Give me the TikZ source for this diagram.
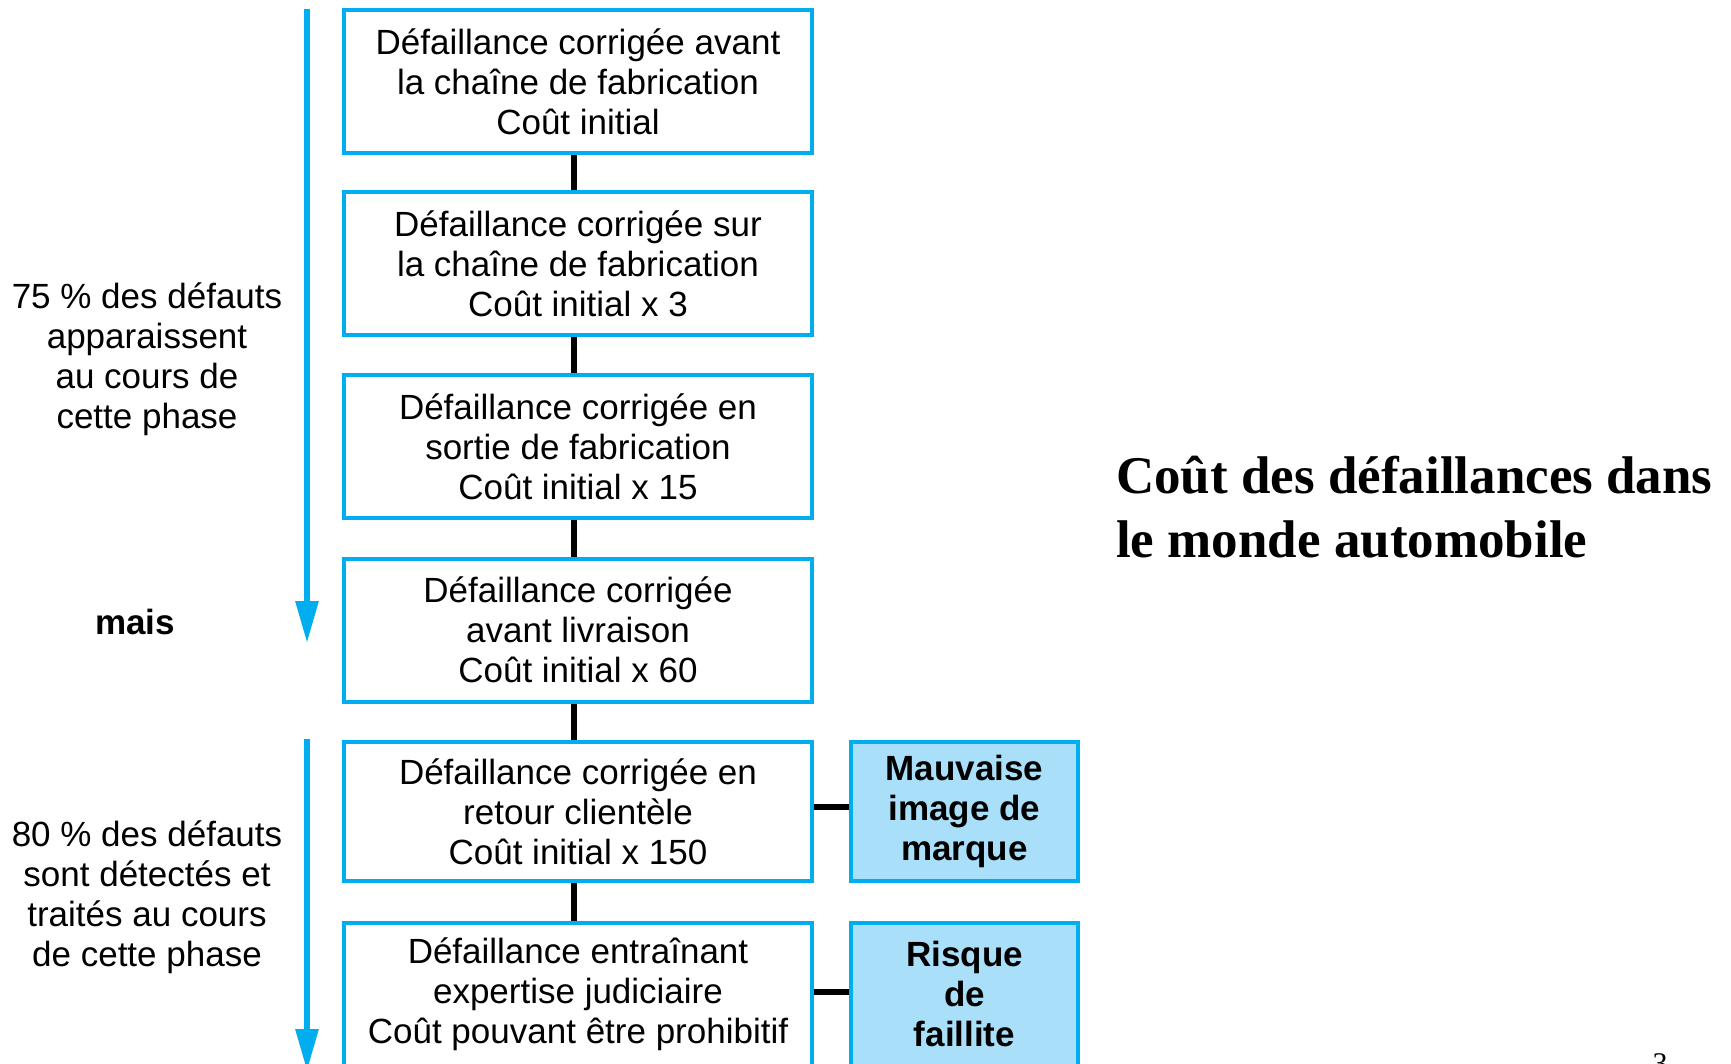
\documentclass[tikz,border=0pt]{standalone}
\usepackage{fontspec}
\setmainfont{Liberation Sans}
\newfontfamily\titlefont{Liberation Serif}
\usetikzlibrary{arrows.meta}
\definecolor{cyanline}{HTML}{00AEEF}
\definecolor{lightfill}{HTML}{A9DFF8}
\begin{document}
\begin{tikzpicture}[x=1pt,y=-1pt,
  stage/.style={draw=cyanline, line width=4pt, minimum width=468pt, minimum height=143pt,
    align=center, inner sep=0pt, font=\fontsize{35}{40}\selectfont},
  riskbox/.style={draw=cyanline, fill=lightfill, line width=4pt, minimum width=227pt, minimum height=126pt,
    align=center, inner sep=0pt, font=\fontsize{35}{40}\selectfont\bfseries},
  sidetext/.style={align=center, inner sep=0pt, font=\fontsize{35}{40}\selectfont},
  link/.style={line width=6pt, black},
  phase/.style={line width=6pt, cyanline, -{Triangle[length=42pt,width=22pt]}}
]
\useasboundingbox (0,0) rectangle (1731,1064);

\node[stage] (b1) at (578,81.5) {Défaillance corrigée avant\\la chaîne de fabrication\\Coût initial};
\node[stage] (b2) at (578,264) {Défaillance corrigée sur\\la chaîne de fabrication\\Coût initial x 3};
\node[stage] (b3) at (578,446.5) {Défaillance corrigée en\\sortie de fabrication\\Coût initial x 15};
\node[stage] (b4) at (578,630) {Défaillance corrigée\\avant livraison\\Coût initial x 60};
\node[stage, minimum height=139pt] (b5) at (578,811.5) {Défaillance corrigée en\\retour clientèle\\Coût initial x 150};
\node[stage] (b6) at (578,994) {Défaillance entraînant\\expertise judiciaire\\Coût pouvant être prohibitif};

\node[riskbox, minimum height=139pt] (r1) at (964.5,811.5) {Mauvaise\\image de\\marque};
\node[riskbox, minimum height=143pt] (r2) at (964.5,994) {Risque\\de\\faillite};

\draw[link] ([xshift=-4pt]b1.south) -- ([xshift=-4pt]b2.north);
\draw[link] ([xshift=-4pt]b2.south) -- ([xshift=-4pt]b3.north);
\draw[link] ([xshift=-4pt]b3.south) -- ([xshift=-4pt]b4.north);
\draw[link] ([xshift=-4pt]b4.south) -- ([xshift=-4pt]b5.north);
\draw[link] ([xshift=-4pt]b5.south) -- ([xshift=-4pt]b6.north);
\draw[link] ([yshift=4.5pt]b5.east) -- ([yshift=4.5pt]r1.west);
\draw[link] ([yshift=2pt]b6.east) -- ([yshift=2pt]r2.west);

\coordinate (a1s) at (307,9);
\coordinate (a1e) at (307,643);
\coordinate (a2s) at (307,739);
\coordinate (a2e) at (307,1071);
\draw[phase] (a1s) -- (a1e);
\draw[phase] (a2s) -- (a2e);

\node[sidetext] (t1) at (147,359) {75 \% des défauts\\apparaissent\\au cours de\\cette phase};
\node[sidetext, font=\fontsize{35}{40}\selectfont\bfseries] (t2) at (135,622) {mais};
\node[sidetext] (t3) at (147,897) {80 \% des défauts\\sont détectés et\\traités au cours\\de cette phase};

\node[anchor=west, align=left, inner sep=0pt, font=\titlefont\fontsize{53}{64}\selectfont\bfseries] (title) at (1116,507)
  {Coût des défaillances dans\\le monde automobile};

\node[anchor=north, inner sep=0pt, font=\titlefont\fontsize{30}{36}\selectfont] (pg) at (1660,1053) {3};
\end{tikzpicture}
\end{document}
